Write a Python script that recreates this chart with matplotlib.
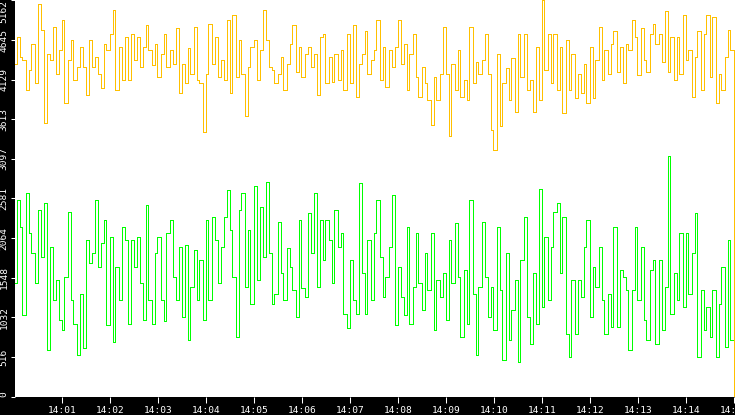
import numpy as np
import pandas as pd
import matplotlib
matplotlib.use("Agg")
import matplotlib.pyplot as plt
import matplotlib.dates as mdates

# ---- data (one sample every 3.75 s) ----
yellow_1 = [4340, 4690, 4430, 4390, 4000, 4260, 4600, 4080, 5120, 4780,
            3560, 4470, 4390, 4820, 4210, 4520, 4910, 3820, 4390, 4650,
            4130, 4300, 4560, 4300, 3930, 4650, 4300, 4430, 4210, 4020,
            4600, 4520, 4730, 5040, 4000, 4560, 4130, 4690, 4130, 4730]
yellow_2 = [4390, 4690, 4300, 4560, 4840, 4520, 4320, 4600, 4170, 4470,
            4730, 4300, 4520, 4340, 4800, 3950, 4340, 4080, 4540, 4210,
            4820, 4130, 4080, 3450, 4210, 4860, 4340, 4690, 4170, 4390,
            4130, 4910, 3950, 4970, 4170, 4650, 4210, 3650, 4300, 4560]
yellow_3 = [4650, 4130, 4520, 5040, 4650, 4300, 4260, 4080, 4210, 4430,
            4000, 4340, 4600, 4840, 4230, 4560, 4170, 4470, 4560, 4300,
            4470, 3930, 4690, 4730, 4080, 4430, 4100, 4470, 4130, 4520,
            4000, 4730, 4080, 4840, 3910, 4340, 4470, 4760, 4210, 4390]
yellow_4 = [4520, 4910, 4130, 4560, 4040, 4520, 4300, 4560, 4910, 4340,
            4600, 4000, 4470, 4730, 4170, 3910, 4300, 4080, 3870, 3540,
            4170, 3870, 4210, 4820, 4210, 3390, 4340, 4000, 4520, 3910,
            4130, 3870, 4820, 4080, 4360, 4210, 4390, 4730, 4210, 3470]
yellow_5 = [3210, 4470, 3520, 4080, 4280, 3870, 4410, 3710, 4730, 4170,
            4730, 3990, 4130, 3710, 4560, 3870, 5170, 4260, 4730, 4080,
            4730, 3990, 4560, 3690, 4650, 3990, 4470, 3890, 4210, 3950,
            4340, 3820, 4560, 3890, 4390, 4820, 4130, 4520, 4210, 4600]
yellow_6 = [4760, 4230, 4560, 4080, 4600, 4520, 4910, 4690, 4190, 4800,
            4390, 4230, 4730, 4860, 4600, 4730, 4360, 5020, 4230, 4690,
            4130, 4690, 4210, 4970, 4390, 4520, 3910, 4430, 4760, 4000,
            4730, 4970, 4170, 4950, 3820, 4210, 4000, 4430, 4780, 4520, 0]

green_1 = [1480, 2560, 2210, 1060, 2650, 2130, 1870, 1480, 2430, 1820,
           2520, 610, 1950, 1260, 1520, 1000, 870, 1560, 2410, 1260,
           950, 540, 1340, 630, 2040, 1740, 1870, 2560, 1690, 2000,
           2300, 930, 2080, 710, 1690, 1260, 2210, 2040, 950, 2040]
green_2 = [1690, 2080, 1480, 1000, 2500, 1260, 950, 1870, 2080, 1260,
           980, 2130, 2300, 1560, 1260, 1950, 1040, 1980, 740, 1430,
           1910, 1260, 1780, 1000, 2300, 1260, 2340, 2040, 1480, 1950,
           2340, 2690, 2170, 1560, 780, 2430, 2650, 1430, 2170, 1210]
green_3 = [2740, 1520, 2470, 1820, 2800, 1870, 1210, 1340, 2280, 1610,
           1260, 1930, 1690, 1390, 1040, 2300, 1410, 1300, 2390, 1870,
           2650, 1430, 2300, 1780, 2300, 2040, 1480, 2430, 1950, 2130,
           1080, 890, 1780, 1260, 1080, 2780, 1610, 1080, 2040, 1260]
green_4 = [2130, 2560, 1820, 1300, 1560, 1950, 2630, 930, 1690, 1300,
           1060, 2210, 950, 1430, 2130, 1480, 1130, 1870, 1390, 2130,
           870, 1520, 1300, 1610, 1000, 2040, 1480, 2260, 1560, 780,
           1650, 950, 2560, 1340, 540, 1430, 2280, 1560, 1040, 1430]
green_5 = [870, 2210, 1390, 480, 1870, 740, 1130, 1520, 450, 1780,
           2340, 1040, 690, 1610, 950, 2710, 1170, 2080, 1260, 1950,
           2410, 2520, 1610, 2340, 820, 520, 1520, 820, 1520, 1300,
           1950, 2300, 1040, 1690, 1430, 1950, 1260, 820, 1340, 910]
green_6 = [2210, 910, 1650, 1560, 1390, 610, 1390, 2210, 1260, 1950,
           1000, 740, 1650, 1780, 690, 1780, 870, 1430, 3130, 1080,
           1610, 1260, 2130, 1170, 2130, 1340, 1870, 2390, 520, 1390,
           870, 1170, 780, 1390, 520, 1210, 1690, 650, 2040, 740, 0]

y_ticks = [0, 516, 1032, 1548, 2064, 2581, 3097, 3613, 4129, 4645, 5162]
start_time = "2024-01-01 14:00:01.250"
sample_step = "3750ms"

yellow = yellow_1 + yellow_2 + yellow_3 + yellow_4 + yellow_5 + yellow_6
green = green_1 + green_2 + green_3 + green_4 + green_5 + green_6
times = pd.date_range(start_time, periods=len(yellow), freq=sample_step)

plt.rcParams["font.family"] = ["DejaVu Sans Mono", "DejaVu Sans"]

W, H = 735, 415
fig = plt.figure(figsize=(W / 100, H / 100), dpi=100, facecolor="black")
ax = fig.add_axes([15 / W, 18 / H, 720 / W, 397 / H])
ax.set_facecolor("white")

ax.plot(times, green, color="#00ff00", lw=0.5, drawstyle="steps-mid",
        antialiased=False)
ax.plot(times, yellow, color="#ffc000", lw=0.5, drawstyle="steps-mid",
        antialiased=False)

ax.set_xlim(times[0], times[-1])
ax.set_ylim(-6, 5168)
for s in ax.spines.values():
    s.set_visible(False)

ax.xaxis.set_major_locator(mdates.MinuteLocator())
ax.xaxis.set_major_formatter(mdates.DateFormatter("%H:%M"))
ax.tick_params(axis="x", colors="white", length=4.3, width=0.75, pad=2.2,
               labelsize=6.8, direction="out")

ax.set_yticks(y_ticks, [str(v) for v in y_ticks])
ax.tick_params(axis="y", colors="white", length=3, width=0.75, pad=1.5,
               labelsize=6.8, labelrotation=90, direction="out")
ylabels = ax.get_yticklabels()
for lbl in ylabels:
    lbl.set_verticalalignment("center")
ylabels[0].set_verticalalignment("bottom")
ylabels[-1].set_verticalalignment("top")

fig.savefig("out.png", dpi=100, facecolor="black")
